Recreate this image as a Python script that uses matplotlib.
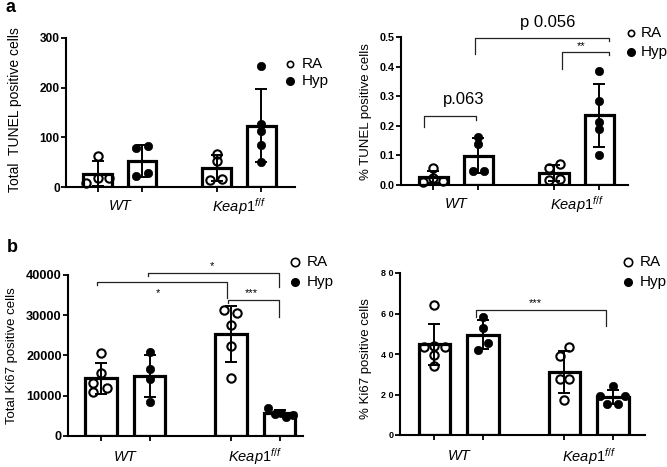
import numpy as np
import matplotlib
matplotlib.use("Agg")
import matplotlib.pyplot as plt

plt.rcParams['font.family'] = ['Liberation Sans', 'DejaVu Sans']
plt.rcParams['mathtext.fontset'] = 'custom'
plt.rcParams['mathtext.it'] = 'Liberation Sans:italic'
plt.rcParams['mathtext.rm'] = 'Liberation Sans'

# ---------------- data ----------------
groups = ['WT', 'Keap1']
series = ['RA', 'Hyp']

tunel_total_wt_ra = [63, 9, 19, 17.5]
tunel_total_wt_hyp = [78, 83, 22, 29]
tunel_total_keap_ra = [67, 53, 14, 17]
tunel_total_keap_hyp = [243, 127, 113, 84, 51]

tunel_pct_wt_ra = [0.058, 0.011, 0.023, 0.015]
tunel_pct_wt_hyp = [0.163, 0.139, 0.048, 0.048]
tunel_pct_keap_ra = [0.072, 0.058, 0.020, 0.018]
tunel_pct_keap_hyp = [0.385, 0.285, 0.214, 0.190, 0.101]

ki67_total_wt_ra = [20500, 15500, 13100, 11800, 10800]
ki67_total_wt_hyp = [20770, 16550, 14070, 8360]
ki67_total_keap_ra = [31270, 30450, 27540, 22330, 14470]
ki67_total_keap_hyp = [6900, 5500, 5700, 4800, 5300]

ki67_pct_wt_ra = [64, 44, 43.3, 43.3, 39.7, 34]
ki67_pct_wt_hyp = [58.2, 52.7, 45.5, 42.1]
ki67_pct_keap_ra = [43.6, 38.8, 27.6, 27.6, 17.4]
ki67_pct_keap_hyp = [24, 19.5, 19.2, 15.2, 15.5]

ylabels = ['Total  TUNEL positive cells', '% TUNEL positive cells',
           'Total Ki67 positive cells', '% Ki67 positive cells']
yticks_list = [[0, 100, 200, 300], [0.0, 0.1, 0.2, 0.3, 0.4, 0.5],
               [0, 10000, 20000, 30000, 40000], [0, 20, 40, 60, 80]]
ytick_labels = [['0', '100', '200', '300'],
                ['0.0', '0.1', '0.2', '0.3', '0.4', '0.5'],
                ['0', '10000', '20000', '30000', '40000'],
                ['0', '2 0', '4 0', '6 0', '8 0']]

# brackets: (x1, x2, ytop, yleft, yright, label, label_x, label_y, fontsize)
brackets_tunel_pct = [
    (-0.21, 0.94, 0.233, 0.197, 0.219, 'p.063', 0.68, 0.262, 12),
    (0.915, 3.90, 0.498, 0.444, 0.487, 'p 0.056', 2.54, 0.525, 12),
    (2.85, 3.90, 0.449, 0.393, 0.438, '**', 3.28, 0.452, 8),
]
brackets_ki67_total = [
    (-0.08, 2.60, 38290, 37470, 34240, '*', 1.18, 34300, 8),
    (0.97, 3.67, 40450, 39620, 36900, '*', 2.28, 40900, 8),
    (2.61, 3.67, 33750, 32930, 29600, '***', 3.10, 34150, 8),
]
brackets_ki67_pct = [
    (0.85, 3.54, 61.9, 58.4, 54.0, '***', 2.07, 62.8, 8),
]

# ---------------- style / layout ----------------
positions = [0, 1, 2.68, 3.68]
bar_width = 0.65

jit_p1 = [[0, -0.26, 0, 0.25], [-0.14, 0.14, -0.14, 0.14],
          [0, 0, -0.15, 0.11], [0, 0, 0, 0, 0]]
jit_p2 = [[0, -0.24, 0, 0.22], [0, 0, -0.13, 0.13],
          [0.13, -0.11, 0.13, -0.11], [0, 0, 0, 0, 0]]
jit_p3 = [[0, 0, -0.16, 0.12, -0.16], [0, 0, 0, 0],
          [-0.14, 0.12, 0, 0, 0], [-0.25, -0.1, 0.02, 0.14, 0.27]]
jit_p4 = [[0, 0, -0.22, 0.21, 0, 0], [0, 0, 0.1, -0.1],
          [0.1, -0.1, -0.1, 0.1, 0], [0, -0.26, 0.25, -0.12, 0.1]]

fig = plt.figure(figsize=(6.67, 4.67), dpi=100)

W, H = 667.0, 467.0
def ax_at(x0, x1, ytop, ybot):
    return fig.add_axes([x0 / W, (H - ybot) / H, (x1 - x0) / W, (ybot - ytop) / H])

axes = [ax_at(66, 295, 38, 187), ax_at(401, 628, 37, 185),
        ax_at(68, 303, 274.7, 436), ax_at(400, 645, 273, 435)]
xlims = [(-0.71, 4.44), (-0.72, 4.32), (-0.68, 4.16), (-0.71, 4.34)]
ylims = [(0, 300), (0, 0.5), (0, 40000), (0, 80)]

panel_data = [
    [tunel_total_wt_ra, tunel_total_wt_hyp, tunel_total_keap_ra, tunel_total_keap_hyp],
    [tunel_pct_wt_ra, tunel_pct_wt_hyp, tunel_pct_keap_ra, tunel_pct_keap_hyp],
    [ki67_total_wt_ra, ki67_total_wt_hyp, ki67_total_keap_ra, ki67_total_keap_hyp],
    [ki67_pct_wt_ra, ki67_pct_wt_hyp, ki67_pct_keap_ra, ki67_pct_keap_hyp],
]
jitters = [jit_p1, jit_p2, jit_p3, jit_p4]
panel_brackets = [[], brackets_tunel_pct, brackets_ki67_total, brackets_ki67_pct]
tick_fs = [8.6, 7.8, 9.2, 6.5]
label_fs = [10, 9.5, 9.5, 9.5]

keap_label = r'$\mathit{Keap1}^{\mathit{f/f}}$'

for i, ax in enumerate(axes):
    data = panel_data[i]
    for j, vals in enumerate(data):
        vals = np.asarray(vals, dtype=float)
        m = vals.mean()
        sd = vals.std(ddof=1)
        x = positions[j]
        ax.bar(x, m, width=bar_width, facecolor='white', edgecolor='black',
               linewidth=2.3, zorder=1)
        ax.errorbar(x, m, yerr=sd, fmt='none', ecolor='black', elinewidth=1.4,
                    capsize=4.5, capthick=1.4, zorder=2)
        xs = x + np.asarray(jitters[i][j])
        if j % 2 == 0:
            ax.plot(xs, vals, 'o', ms=6.0, mfc='none', mec='black', mew=1.5,
                    zorder=3, clip_on=False)
        else:
            ax.plot(xs, vals, 'o', ms=6.0, mfc='black', mec='black', mew=0.5,
                    zorder=3, clip_on=False)
    ax.set_xlim(*xlims[i])
    ax.set_ylim(*ylims[i])
    ax.spines['top'].set_visible(False)
    ax.spines['right'].set_visible(False)
    ax.spines['left'].set_linewidth(1.5)
    ax.spines['bottom'].set_linewidth(1.5)
    ax.set_xticks(positions)
    ax.set_xticklabels([])
    ax.set_yticks(yticks_list[i])
    ax.set_yticklabels(ytick_labels[i], fontweight='bold', fontsize=tick_fs[i])
    ax.tick_params(axis='both', length=3.5, width=1.3, pad=1)
    # group labels
    ax.text((positions[0] + positions[1]) / 2, -0.13, 'WT', style='italic',
            fontsize=10.5, ha='center', va='center',
            transform=ax.get_xaxis_transform())
    ax.text((positions[2] + positions[3]) / 2, -0.13, keap_label,
            fontsize=10.5, ha='center', va='center',
            transform=ax.get_xaxis_transform())
    # brackets
    for (x1, x2, yt, yl, yr, lab, lx, ly, fs) in panel_brackets[i]:
        ax.plot([x1, x1, x2, x2], [yl, yt, yt, yr], color='#222222', lw=0.9,
                clip_on=False, zorder=4)
        ax.text(lx, ly, lab, ha='center', va='bottom', fontsize=fs,
                clip_on=False)

# y labels
ylab_pos = [(15, 110), (366, 112), (12, 356), (366, 359)]
for (x, y), lab, fs in zip(ylab_pos, ylabels, label_fs):
    fig.text(x / W, (H - y) / H, lab, rotation=90, ha='center', va='center',
             fontsize=fs)

# legends
leg_pos = [(290, 64, 302, 81, 4.5), (631, 33, 641, 52, 4.5),
           (295, 262, 307, 282, 6.0), (628, 262, 640, 282, 6.0)]
for (cx, cy1, tx, cy2, ms) in leg_pos:
    fig.lines.append(plt.Line2D([cx / W], [(H - cy1) / H], marker='o', ms=ms,
                                mfc='none', mec='black', mew=1.2,
                                transform=fig.transFigure))
    fig.lines.append(plt.Line2D([cx / W], [(H - cy2) / H], marker='o', ms=5.5,
                                mfc='black', mec='black',
                                transform=fig.transFigure))
    fig.text(tx / W, (H - cy1) / H, series[0], fontsize=11, va='center', ha='left')
    fig.text(tx / W, (H - cy2) / H, series[1], fontsize=11, va='center', ha='left')

# panel letters
fig.text(10 / W, (H - 8) / H, 'a', fontsize=13, fontweight='bold', va='center', ha='center')
fig.text(12 / W, (H - 247) / H, 'b', fontsize=13, fontweight='bold', va='center', ha='center')

fig.savefig('out.png', dpi=100)
